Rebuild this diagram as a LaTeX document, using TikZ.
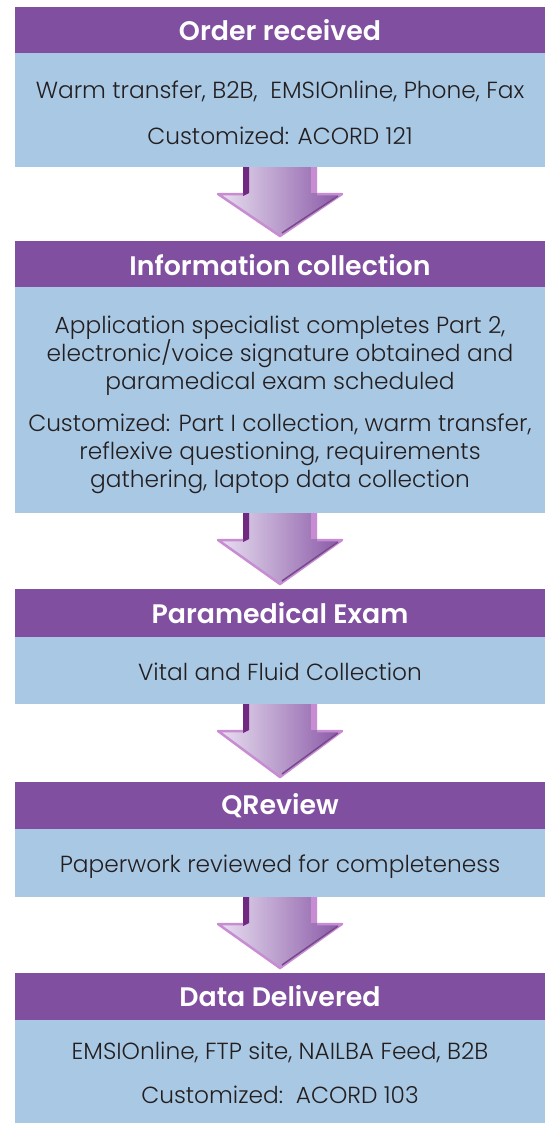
\documentclass[tikz,border=0pt]{standalone}
\usepackage{fontspec}
\setmainfont{Poppins Light}[BoldFont=Poppins SemiBold]
\usetikzlibrary{calc}
\definecolor{hdr}{RGB}{128,79,160}
\definecolor{bdy}{RGB}{169,200,228}
\definecolor{txt}{RGB}{35,31,32}
\definecolor{arL}{RGB}{234,226,242}
\definecolor{arR}{RGB}{136,86,165}
\definecolor{arD}{RGB}{112,40,128}
\definecolor{arE}{RGB}{200,140,210}
\newcommand\flowarr[2]{%
  \shade[left color=arL, right color=arR]
    ($(#1.south)+(-37,0)$) -- ($(#1.south)+(37,0)$) -- ($(#1.south)+(37,26)$)
    -- ($(#1.south)+(63,26)$) -- ($(#2.north)+(0,-4)$) -- ($(#1.south)+(-63,26)$)
    -- ($(#1.south)+(-37,26)$) -- cycle;
  \fill[arD] ($(#1.south)+(-37,0)$) -- ($(#1.south)+(-31,0)$) -- ($(#1.south)+(-31,26)$) -- ($(#1.south)+(-37,29)$) -- cycle;
  \fill[arE] ($(#1.south)+(31,0)$) rectangle ($(#1.south)+(37,26)$);
  \draw[arE, line width=2.5pt, line join=round] ($(#1.south)+(-37,27)$) -- ($(#1.south)+(-62,27)$) -- ($(#2.north)+(0,-5)$) -- ($(#1.south)+(62,27)$) -- ($(#1.south)+(37,27)$);
  \draw[arR!85!black, line width=1.5pt] ($(#1.south)+(58,29)$) -- ($(#2.north)+(2,-8)$);
}
\begin{document}
\begin{tikzpicture}[x=1pt,y=-1pt,
  hbox/.style={fill=hdr, minimum width=530pt, inner sep=0pt, anchor=north, outer sep=0pt},
  bbox/.style={fill=bdy, minimum width=530pt, inner sep=0pt, anchor=north, outer sep=0pt},
  htext/.style={text=white, font=\bfseries\fontsize{26.8}{28}\selectfont, inner sep=0pt},
  btext/.style={text=txt, font=\fontsize{23.3}{28}\selectfont, align=center, inner sep=0pt}
]
\useasboundingbox (0,0) rectangle (552,1124);
\node[hbox, minimum height=46pt] (h1) at (280,7) {};
\node[bbox, minimum height=114pt] (b1) at (h1.south) {};
\node[hbox, minimum height=46pt] (h2) at (280,241) {};
\node[bbox, minimum height=226pt] (b2) at (h2.south) {};
\node[hbox, minimum height=48pt] (h3) at (280,589) {};
\node[bbox, minimum height=67pt] (b3) at (h3.south) {};
\node[hbox, minimum height=47pt] (h4) at (280,782) {};
\node[bbox, minimum height=68pt] (b4) at (h4.south) {};
\node[hbox, minimum height=47pt] (h5) at (280,973) {};
\node[bbox, minimum height=103pt] (b5) at (h5.south) {};

\node[htext] (th1) at ($(h1.center)+(0,0)$) {Order received};
\node[htext] (th2) at ($(h2.center)+(0,1.5)$) {Information collection};
\node[htext] (th3) at ($(h3.center)+(0,0)$) {Paramedical Exam};
\node[htext] (th4) at ($(h4.center)+(0,0)$) {QReview};
\node[htext] (th5) at ($(h5.center)+(0,0)$) {Data Delivered};

\node[btext] (tb1) at ($(b1.center)+(0,2.5)$) {Warm transfer, B2B,\ \ EMSIOnline, Phone, Fax\\[18pt] Customized: ACORD 121};
\node[btext] (tb2) at ($(b2.center)+(0,4.5)$) {Application specialist completes Part 2,\\ electronic/voice signature obtained and\\ paramedical exam scheduled\\[14pt] Customized: Part I collection, warm transfer,\\ reflexive questioning, requirements\\ gathering, laptop data collection};
\node[btext] (tb3) at ($(b3.center)+(0,1)$) {Vital and Fluid Collection};
\node[btext] (tb4) at ($(b4.center)+(0,3.5)$) {Paperwork reviewed for completeness};
\node[btext] (tb5) at ($(b5.center)+(0,1.5)$) {EMSIOnline, FTP site, NAILBA Feed, B2B\\[16pt] Customized:\ \ ACORD 103};

\flowarr{b1}{h2}
\flowarr{b2}{h3}
\flowarr{b3}{h4}
\flowarr{b4}{h5}
\end{tikzpicture}
\end{document}
